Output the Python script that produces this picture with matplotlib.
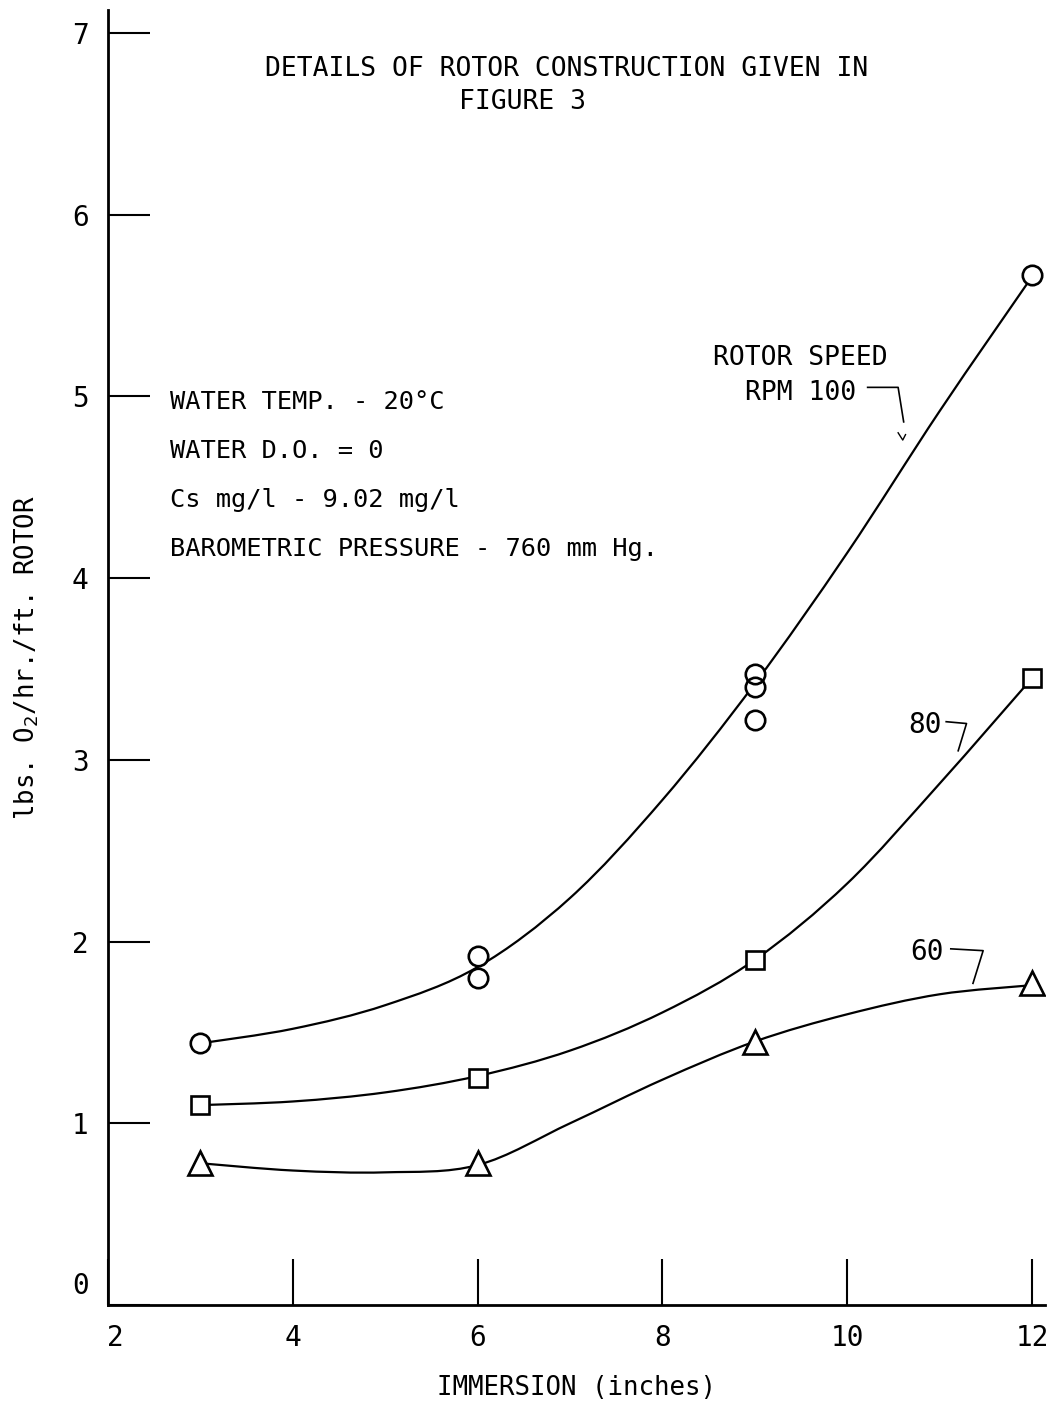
import matplotlib
matplotlib.use("Agg")
import matplotlib.pyplot as plt
from matplotlib.path import Path
from matplotlib.patches import PathPatch
from matplotlib.transforms import ScaledTranslation

plt.rcParams['font.family'] = ['DejaVu Sans Mono', 'DejaVu Sans']
plt.rcParams['mathtext.fontset'] = 'dejavusans'

# measured points (immersion in inches, lbs O2/hr/ft rotor)
x100 = [3, 6, 6, 9, 9, 9, 12]
y100 = [1.44, 1.92, 1.80, 3.47, 3.40, 3.22, 5.67]
x80 = [3, 6, 9, 12]
y80 = [1.10, 1.25, 1.90, 3.45]
x60 = [3, 6, 9, 12]
y60 = [0.78, 0.78, 1.45, 1.77]

# hand-drawn fitted curves
cx = [3, 4, 5, 6, 7, 8, 9, 10, 11, 12]
c100 = [1.44, 1.52, 1.65, 1.86, 2.24, 2.78, 3.42, 4.14, 4.92, 5.66]
c80 = [1.10, 1.12, 1.17, 1.26, 1.40, 1.61, 1.90, 2.32, 2.87, 3.45]
c60 = [0.78, 0.74, 0.73, 0.77, 1.00, 1.24, 1.45, 1.60, 1.71, 1.76]

xticks = [2, 4, 6, 8, 10, 12]
yticks = [0, 1, 2, 3, 4, 5, 6, 7]


def smooth_path(xs, ys):
    # pass a bezier through the read points (french-curve look)
    pts = list(zip(xs, ys))
    n = len(pts)
    verts = [pts[0]]
    codes = [Path.MOVETO]
    for i in range(n - 1):
        p0 = pts[max(i - 1, 0)]
        p1 = pts[i]
        p2 = pts[i + 1]
        p3 = pts[min(i + 2, n - 1)]
        c1 = (p1[0] + (p2[0] - p0[0]) / 6, p1[1] + (p2[1] - p0[1]) / 6)
        c2 = (p2[0] - (p3[0] - p1[0]) / 6, p2[1] - (p3[1] - p1[1]) / 6)
        verts += [c1, c2, p2]
        codes += [Path.CURVE4] * 3
    return Path(verts, codes)


fig = plt.figure(figsize=(10.52, 14.02), dpi=100)
ax = fig.add_axes([0.1027, 0.0692, 0.8907, 0.9237])
ax.set_xlim(2, 12.14)
ax.set_ylim(0, 7.127)

for cy in (c100, c80, c60):
    ax.add_patch(PathPatch(smooth_path(cx, cy), fc='none', ec='black', lw=1.6, zorder=2))

for xs, ys, m, ms in ((x100, y100, 'o', 14), (x80, y80, 's', 12.5), (x60, y60, '^', 17)):
    # white fill first so curves stop at the symbol edge, then the outlines
    ax.plot(xs, ys, ls='none', marker=m, ms=ms, mfc='white', mec='none', zorder=3)
    ax.plot(xs, ys, ls='none', marker=m, ms=ms, mfc='none', mec='black', mew=1.9, zorder=4)

for s in ('top', 'right'):
    ax.spines[s].set_visible(False)
for s in ('left', 'bottom'):
    ax.spines[s].set_linewidth(2)

ax.set_xticks(xticks)
ax.set_yticks(yticks)
ax.tick_params(axis='y', direction='in', length=30, width=1.5, pad=14, labelsize=20)
ax.tick_params(axis='x', direction='in', length=33, width=1.5, pad=14, labelsize=20)

# the zero label sits a little above the axis line in the original
for lab in ax.get_yticklabels():
    if lab.get_text() == '0':
        lab.set_transform(lab.get_transform() + ScaledTranslation(0, 0.22, fig.dpi_scale_trans))
for lab in ax.get_xticklabels():
    if lab.get_text() == '2':
        lab.set_transform(lab.get_transform() + ScaledTranslation(0.07, 0, fig.dpi_scale_trans))

ax.set_xlabel('IMMERSION (inches)', fontsize=18.5, labelpad=16)
ax.set_ylabel('lbs. O$_2$/hr./ft. ROTOR', fontsize=18.5, labelpad=22)

ax.text(3.70, 6.80, 'DETAILS OF ROTOR CONSTRUCTION GIVEN IN', fontsize=19, va='center')
ax.text(5.80, 6.62, 'FIGURE 3', fontsize=19, va='center')

notes = ['WATER TEMP. - 20°C', 'WATER D.O. = 0', 'Cs mg/l - 9.02 mg/l',
         'BAROMETRIC PRESSURE - 760 mm Hg.']
for i, t in enumerate(notes):
    ax.text(2.67, 4.97 - i * 0.27, t, fontsize=18.3, va='center')

ax.text(8.55, 5.21, 'ROTOR SPEED', fontsize=19, va='center')
ax.text(8.89, 5.02, 'RPM 100', fontsize=19, va='center')
ax.text(10.66, 3.19, '80', fontsize=20, va='center')
ax.text(10.68, 1.94, '60', fontsize=20, va='center')

# leader lines from the speed labels to the curves
ax.plot([10.22, 10.55, 10.61], [5.05, 5.05, 4.86], color='black', lw=1.2)
ax.plot([10.55, 10.60, 10.63], [4.80, 4.76, 4.79], color='black', lw=1.0)
ax.plot([11.07, 11.29, 11.20], [3.21, 3.20, 3.05], color='black', lw=1.2)
ax.plot([11.12, 11.47, 11.36], [1.96, 1.95, 1.77], color='black', lw=1.2)

fig.savefig('out.png', dpi=100)
